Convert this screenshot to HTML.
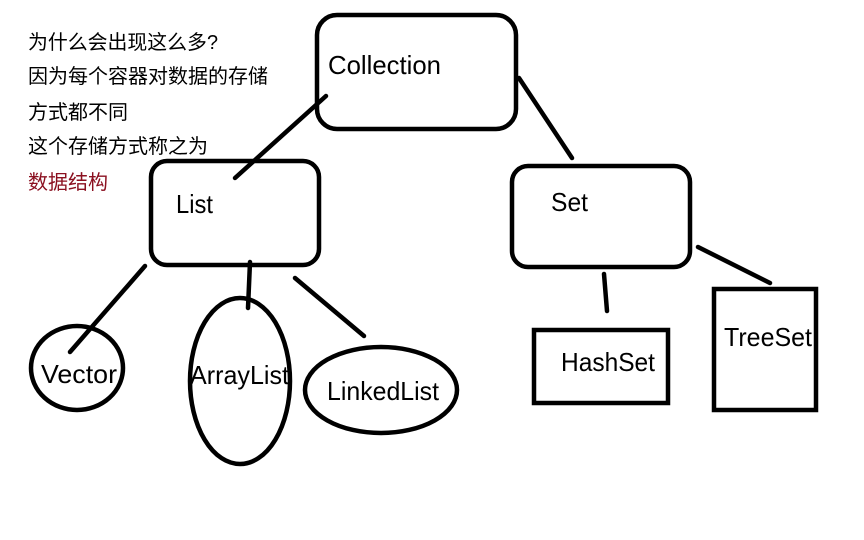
<!DOCTYPE html>
<html><head><meta charset="utf-8"><style>
html,body{margin:0;padding:0;background:#fff;width:864px;height:540px;overflow:hidden}
svg text{font-family:"Liberation Sans","Noto Sans CJK SC",sans-serif}
</style></head><body>
<svg width="864" height="540" viewBox="0 0 864 540" xmlns="http://www.w3.org/2000/svg">
<g font-size="20" fill="#000">
<text x="28" y="49" textLength="190" lengthAdjust="spacingAndGlyphs">为什么会出现这么多?</text>
<text x="28" y="83" textLength="240" lengthAdjust="spacingAndGlyphs">因为每个容器对数据的存储</text>
<text x="28" y="119" textLength="100" lengthAdjust="spacingAndGlyphs">方式都不同</text>
<text x="28" y="153" textLength="180" lengthAdjust="spacingAndGlyphs">这个存储方式称之为</text>
<text x="28" y="189" fill="#8b1020" textLength="80" lengthAdjust="spacingAndGlyphs">数据结构</text>
</g>
<g fill="none" stroke="#000" stroke-width="4.5" stroke-linecap="round">
<rect x="317" y="15" width="199" height="114" rx="20"/>
<rect x="151" y="161" width="168" height="104" rx="16"/>
<rect x="512" y="166" width="178" height="101" rx="16"/>
<line x1="326" y1="96" x2="235" y2="178"/>
<line x1="519" y1="78" x2="572" y2="158"/>
<line x1="145" y1="266" x2="70" y2="352"/>
<line x1="250" y1="262" x2="248" y2="308"/>
<line x1="295" y1="278" x2="364" y2="336"/>
<line x1="604" y1="274" x2="607" y2="311"/>
<line x1="698" y1="247" x2="770" y2="283"/>
<ellipse cx="77" cy="368" rx="46" ry="42"/>
<ellipse cx="240" cy="381" rx="50" ry="83"/>
<ellipse cx="381" cy="390" rx="76" ry="43"/>
<rect x="534" y="330" width="134" height="73" stroke-linecap="butt"/>
<rect x="714" y="289" width="102" height="121" stroke-linecap="butt"/>
</g>
<g font-size="26" fill="#000" lengthAdjust="spacingAndGlyphs">
<text x="328" y="74" textLength="113" lengthAdjust="spacingAndGlyphs">Collection</text>
<text x="176" y="213" textLength="37" lengthAdjust="spacingAndGlyphs">List</text>
<text x="551" y="211" textLength="37" lengthAdjust="spacingAndGlyphs">Set</text>
<text x="41" y="383" textLength="76" lengthAdjust="spacingAndGlyphs">Vector</text>
<text x="190" y="384" textLength="99" lengthAdjust="spacingAndGlyphs">ArrayList</text>
<text x="327" y="400" textLength="112" lengthAdjust="spacingAndGlyphs">LinkedList</text>
<text x="561" y="371" textLength="94" lengthAdjust="spacingAndGlyphs">HashSet</text>
<text x="724" y="346" textLength="88" lengthAdjust="spacingAndGlyphs">TreeSet</text>
</g>
</svg>
</body></html>
